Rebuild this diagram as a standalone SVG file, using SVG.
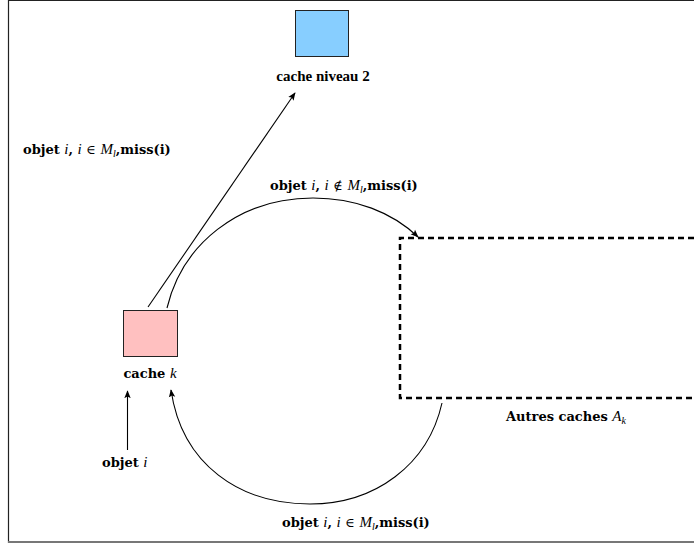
<svg xmlns="http://www.w3.org/2000/svg" width="694" height="548" viewBox="0 0 694 548">
<style>
text{font-family:"DejaVu Serif","Liberation Serif",serif;font-size:13px;font-weight:bold;fill:#000}
.m{font-family:"Liberation Serif",serif;font-size:15px;font-style:italic;font-weight:normal}
.sub{font-family:"Liberation Serif",serif;font-size:10px;font-style:italic;font-weight:normal}
.op{font-family:"DejaVu Serif",serif;font-weight:normal}
.t{font-family:"Liberation Serif","Times New Roman",serif;font-size:15px}
.c{fill:none;stroke:#000;stroke-width:1.1}
</style>
<defs>
<marker id="ah" viewBox="0 0 10 10" refX="9" refY="5" markerWidth="8" markerHeight="8" markerUnits="userSpaceOnUse" orient="auto">
<path d="M0,1 L10,5 L0,9 L2,5 Z" fill="#000"/>
</marker>
</defs>
<rect x="0" y="0" width="694" height="548" fill="#fff"/>
<g id="frame">
<line x1="8.5" y1="0" x2="8.5" y2="543" stroke="#222" stroke-width="1.2"/>
<line x1="8" y1="0.5" x2="694" y2="0.5" stroke="#222" stroke-width="1.2"/>
<line x1="8" y1="542" x2="694" y2="542" stroke="#777" stroke-width="2"/>
</g>
<g id="connectors">
<line class="c" x1="148" y1="307" x2="295" y2="93" marker-end="url(#ah)"/>
<path class="c" d="M167,308 C182,245 238,198 313,198 C355,198 392,212 418,237" marker-end="url(#ah)"/>
<path class="c" d="M442,403 C428,465 375,504 310,504 C240,504 182,465 171,390" marker-end="url(#ah)"/>
<line class="c" x1="127.5" y1="450" x2="127.5" y2="391" marker-end="url(#ah)"/>
</g>
<g id="niveau2">
<rect x="295.5" y="10.5" width="53" height="46" fill="#87CEFF" stroke="#222" stroke-width="1"/>
<text class="t" x="323" y="81" text-anchor="middle">cache niveau 2</text>
</g>
<g id="cachek">
<rect x="123.5" y="310.5" width="54" height="46" fill="#FFC0C0" stroke="#222" stroke-width="1"/>
<text x="150" y="378" text-anchor="middle">cache <tspan class="m">k</tspan></text>
</g>
<g id="autres">
<path d="M694,238 L400,238 L400,398 L694,398" fill="none" stroke="#000" stroke-width="2.5" stroke-dasharray="6,4"/>
<text x="566" y="421" text-anchor="middle">Autres caches <tspan class="m">A</tspan><tspan class="sub" dy="3">k</tspan></text>
</g>
<g id="labels">
<text x="23" y="154">objet <tspan class="m">i</tspan>, <tspan class="m">i</tspan> <tspan class="op">∈</tspan> <tspan class="m">M</tspan><tspan class="sub" dy="3">l</tspan><tspan dy="-3">,miss(i)</tspan></text>
<text x="270" y="190">objet <tspan class="m">i</tspan>, <tspan class="m">i</tspan> <tspan class="op">∉</tspan> <tspan class="m">M</tspan><tspan class="sub" dy="3">l</tspan><tspan dy="-3">,miss(i)</tspan></text>
<text x="102" y="467">objet <tspan class="m">i</tspan></text>
<text x="282" y="527">objet <tspan class="m">i</tspan>, <tspan class="m">i</tspan> <tspan class="op">∈</tspan> <tspan class="m">M</tspan><tspan class="sub" dy="3">l</tspan><tspan dy="-3">,miss(i)</tspan></text>
</g>
</svg>
